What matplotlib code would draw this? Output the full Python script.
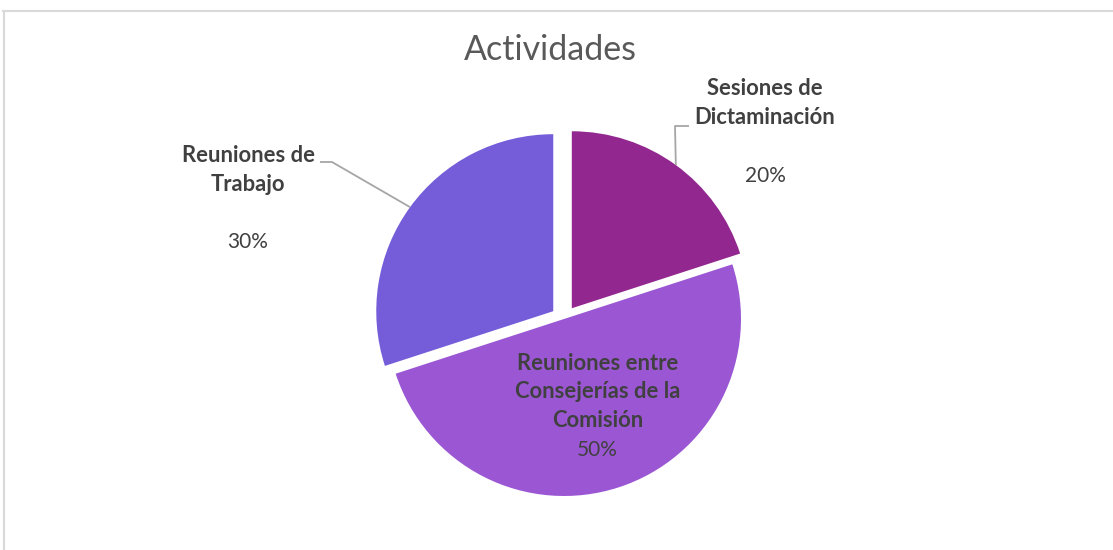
import numpy as np
import matplotlib
matplotlib.use("Agg")
import matplotlib.pyplot as plt
from matplotlib.lines import Line2D

# ---- data ----
title = "Actividades"
categories = ["Sesiones de Dictaminación",
              "Reuniones entre Consejerías de la Comisión",
              "Reuniones de Trabajo"]
values = [20, 50, 30]
colors = ["#92278F", "#9B57D3", "#755DD9"]

# ---- layout (pixels, y from top) ----
W, H = 1113, 550
DPI = 100
center_px = (564, 319)
radius_px = 177
explode_frac = [0.075, 0.0, 0.075]
display_labels = ["Sesiones de\nDictaminación",
                  "Reuniones entre\nConsejerías de la\nComisión",
                  "Reuniones de\nTrabajo"]
name_pos = [(765, 103), (598, 392), (248, 170)]
pct_pos = [(765, 176), (597, 450), (248, 242)]
leader_elbow = [[(675, 126), (689, 126)], None, [(332, 162), (320, 162)]]
txt_color = "#404040"
FONT = ["Lato", "DejaVu Sans"]

fig = plt.figure(figsize=(W / DPI, H / DPI), dpi=DPI)
ax = fig.add_axes([0, 0, 1, 1])

def Y(y):
    return H - y

wedges, _ = ax.pie(values, colors=colors, startangle=90, counterclock=False,
                   explode=[e * radius_px for e in explode_frac], radius=radius_px,
                   center=(center_px[0], Y(center_px[1])),
                   wedgeprops=dict(linewidth=0), frame=True)
ax.set_xlim(0, W)
ax.set_ylim(0, H)
ax.axis("off")

total = sum(values)
for i, w in enumerate(wedges):
    ax.text(name_pos[i][0], Y(name_pos[i][1]), display_labels[i],
            ha="center", va="center", fontsize=15.8, fontweight="bold",
            color=txt_color, family=FONT, linespacing=1.42)
    ax.text(pct_pos[i][0], Y(pct_pos[i][1]), f"{values[i] / total * 100:.0f}%",
            ha="center", va="center", fontsize=15, color=txt_color, family=FONT)
    if leader_elbow[i] is not None:
        th = np.deg2rad((w.theta1 + w.theta2) / 2)
        cx, cy = w.center
        x0 = cx + w.r * np.cos(th)
        y0 = cy + w.r * np.sin(th)
        xs = [x0] + [p[0] for p in leader_elbow[i]]
        ys = [y0] + [Y(p[1]) for p in leader_elbow[i]]
        ax.plot(xs, ys, color="#A6A6A6", lw=1.3, solid_capstyle="butt")

fig.text(550 / W, 1 - 50 / H, title, ha="center", va="center", fontsize=24.5,
         color="#595959", family=FONT)

# chart frame
fig.add_artist(Line2D([3.5 / W, 3.5 / W], [0, 1 - 11 / H], transform=fig.transFigure,
                      color="#D9D9D9", lw=1.5))
fig.add_artist(Line2D([3 / W, 1], [1 - 11 / H, 1 - 11 / H], transform=fig.transFigure,
                      color="#D9D9D9", lw=1.5))

fig.savefig("out.png", dpi=DPI)
